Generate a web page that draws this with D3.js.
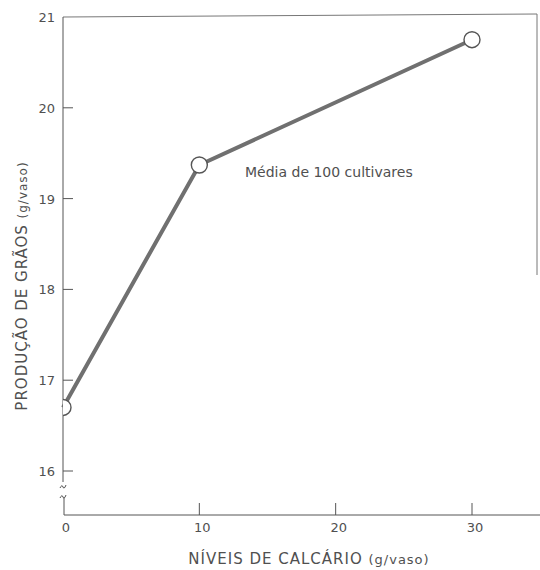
<!DOCTYPE html>
<html lang="pt">
<head>
<meta charset="UTF-8">
<title>Produção de grãos x níveis de calcário</title>
<script src="https://d3js.org/d3.v7.min.js"></script>
<style>
  body { margin: 0; background: #fff; font-family: "DejaVu Sans", sans-serif; }
  text { fill: #505050; }
  .title { letter-spacing: 1px; }
</style>
</head>
<body>
<div id="chart"></div>
<script>
// data
const calcario = [0, 10, 30];          // g/vaso
const producao = [16.7, 19.37, 20.75];  // g/vaso
const xTicks = [0, 10, 20, 30];
const yTicks = [16, 17, 18, 19, 20, 21];

const W = 540, H = 570;
const svg = d3.select("#chart").append("svg")
    .attr("width", W).attr("height", H);

const x = d3.scaleLinear().domain([0, 30]).range([63, 472]);
const y = d3.scaleLinear().domain([16, 21]).range([471, 17]);
const axisY = 515;
const ink = "#555";

// frame: top and partial right border
svg.append("path")
    .attr("d", `M${x(0)},${y(21)} L537,${y(21) - 3} L537,275`)
    .attr("fill", "none").attr("stroke", "#777").attr("stroke-width", 1);

// y axis with break
svg.append("line")
    .attr("x1", x(0)).attr("x2", x(0))
    .attr("y1", y(21)).attr("y2", 482)
    .attr("stroke", ink);
svg.append("line")
    .attr("x1", x(0) + 1).attr("x2", x(0) + 1)
    .attr("y1", 498).attr("y2", axisY)
    .attr("stroke", ink);
[486, 496].forEach(yy => {
  svg.append("path")
      .attr("d", `M${x(0) - 3},${yy + 2} q2,-4 3,-1 q1,3 3,-2`)
      .attr("fill", "none").attr("stroke", ink).attr("stroke-width", 1);
});

// y ticks (inside) and labels
svg.selectAll("line.ytick")
  .data(yTicks.filter(d => d < 21))
  .join("line")
    .attr("class", "ytick")
    .attr("x1", x(0)).attr("x2", x(0) + 10)
    .attr("y1", d => y(d)).attr("y2", d => y(d))
    .attr("stroke", ink);
svg.selectAll("text.ylab")
  .data(yTicks)
  .join("text")
    .attr("class", "ylab")
    .attr("x", x(0) - 8)
    .attr("y", d => y(d) + 5)
    .attr("text-anchor", "end")
    .style("font-size", "13px")
    .text(d => d);

// x axis
svg.append("line")
    .attr("x1", x(0) + 1).attr("x2", W)
    .attr("y1", axisY).attr("y2", axisY)
    .attr("stroke", ink);
svg.selectAll("line.xtick")
  .data(xTicks.filter(d => d > 0))
  .join("line")
    .attr("class", "xtick")
    .attr("x1", d => x(d)).attr("x2", d => x(d))
    .attr("y1", axisY).attr("y2", axisY - 12)
    .attr("stroke", ink);
svg.selectAll("text.xlab")
  .data(xTicks)
  .join("text")
    .attr("class", "xlab")
    .attr("x", d => x(d) + 3)
    .attr("y", axisY + 17)
    .attr("text-anchor", "middle")
    .style("font-size", "13px")
    .text(d => d);

// axis titles
const xt = svg.append("text")
    .attr("class", "title")
    .attr("x", 309).attr("y", 564)
    .attr("text-anchor", "middle")
    .style("font-size", "15px");
xt.append("tspan").text("NÍVEIS DE CALCÁRIO ");
xt.append("tspan").style("font-size", "13px").text("(g/vaso)");

const yt = svg.append("text")
    .attr("class", "title")
    .attr("transform", "translate(27,286) rotate(-90)")
    .attr("text-anchor", "middle")
    .style("font-size", "15px");
yt.append("tspan").text("PRODUÇÃO DE GRÃOS ");
yt.append("tspan").style("font-size", "12px").text("(g/vaso)");

// series line
const pts = calcario.map((c, i) => [c, producao[i]]);
svg.append("path")
    .datum(pts)
    .attr("d", d3.line().x(d => x(d[0])).y(d => y(d[1])))
    .attr("fill", "none")
    .attr("stroke", "#707070")
    .attr("stroke-width", 4);

// markers, first one cut by the axis
svg.append("clipPath").attr("id", "plot")
  .append("rect").attr("x", x(0)).attr("y", 0).attr("width", W).attr("height", H);
svg.selectAll("circle")
  .data(pts)
  .join("circle")
    .attr("clip-path", "url(#plot)")
    .attr("cx", d => x(d[0]))
    .attr("cy", d => y(d[1]))
    .attr("r", 8)
    .attr("fill", "#fff")
    .attr("stroke", "#555")
    .attr("stroke-width", 1.4);

// annotation
svg.append("text")
    .attr("x", 245).attr("y", 177)
    .style("font-size", "14px")
    .text("Média de 100 cultivares");
</script>
</body>
</html>
